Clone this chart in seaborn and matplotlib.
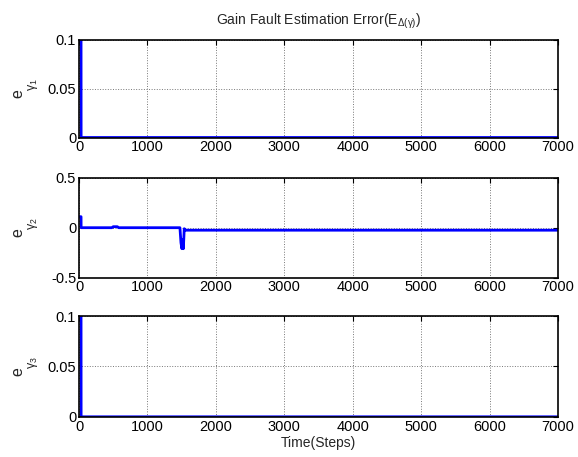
import numpy as np
import pandas as pd
import matplotlib
matplotlib.use("Agg")
import matplotlib.pyplot as plt
import seaborn as sns

# ---- data ----
t1 = [0, 30, 31, 7000]
e1 = [0.1, 0.1, 0.0, 0.0]

t2 = [0, 30, 31, 480, 500, 560, 580, 1475, 1490, 1504, 1515, 1525, 1538, 1560, 7000]
e2 = [0.11, 0.11, 0.0, 0.0, 0.01, 0.01, 0.0, 0.0, -0.15, -0.21, -0.12, -0.21, -0.01, -0.025, -0.025]

t3 = [0, 30, 31, 7000]
e3 = [0.1, 0.1, 0.0, 0.0]

xticks = [0, 1000, 2000, 3000, 4000, 5000, 6000, 7000]
ylims = [(0, 0.1), (-0.5, 0.5), (0, 0.1)]
yticks = [[0, 0.05, 0.1], [-0.5, 0, 0.5], [0, 0.05, 0.1]]
yticklabels = [["0", "0.05", "0.1"], ["-0.5", "0", "0.5"], ["0", "0.05", "0.1"]]
ylabel_base = "e"
ylabel_subs = [r"$\mathrm{γ}_1$", r"$\mathrm{γ}_2$", r"$\mathrm{γ}_3$"]
title = r"Gain Fault Estimation Error(E$_{\Delta(\mathrm{γ})}$)"
xlabel = "Time(Steps)"

sns.set_style("white")
plt.rcParams["font.family"] = ["Liberation Sans", "DejaVu Sans"]
plt.rcParams["mathtext.fontset"] = "custom"
plt.rcParams["mathtext.rm"] = "Liberation Sans"
plt.rcParams["mathtext.it"] = "Liberation Sans:italic"

fig = plt.figure(figsize=(5.78, 4.57), dpi=100)
W, H = 578, 457
left, right = 79, 558
boxes = [(39.5, 137.5), (177.7, 277.7), (316, 416.8)]

series = [(t1, e1), (t2, e2), (t3, e3)]
axes = []
for i, ((top, bot), (tt, ee)) in enumerate(zip(boxes, series)):
    ax = fig.add_axes([left / W, 1 - bot / H, (right - left) / W, (bot - top) / H])
    df = pd.DataFrame({"t": tt, "e": ee})
    sns.lineplot(data=df, x="t", y="e", ax=ax, color="#0000ff", linewidth=2.0)
    ax.set_xlim(0, 7000)
    ax.set_ylim(*ylims[i])
    ax.set_xticks(xticks)
    ax.set_xticklabels([str(v) for v in xticks])
    ax.set_yticks(yticks[i])
    ax.set_yticklabels(yticklabels[i])
    ax.grid(True, color="#777777", linestyle=":", linewidth=0.7)
    ax.set_axisbelow(True)
    for s in ax.spines.values():
        s.set_color("black")
        s.set_linewidth(1.2)
    ax.tick_params(direction="in", length=3.5, width=0.8, top=True, right=True,
                   labelsize=10.5, colors="black", pad=2)
    ax.set_ylabel("")
    ax.set_xlabel("")
    cy = (top + bot) / 2
    fig.text(18 / W, 1 - (cy + 5) / H, ylabel_base, rotation=90, fontsize=11.5,
             ha="center", va="center")
    fig.text(33 / W, 1 - (cy - 4) / H, ylabel_subs[i], rotation=90, fontsize=9,
             ha="center", va="center")
    axes.append(ax)

axes[0].set_title(title, fontsize=10, pad=11)
axes[2].set_xlabel(xlabel, fontsize=10, labelpad=2)

fig.savefig("out.png", dpi=100, facecolor="white")
